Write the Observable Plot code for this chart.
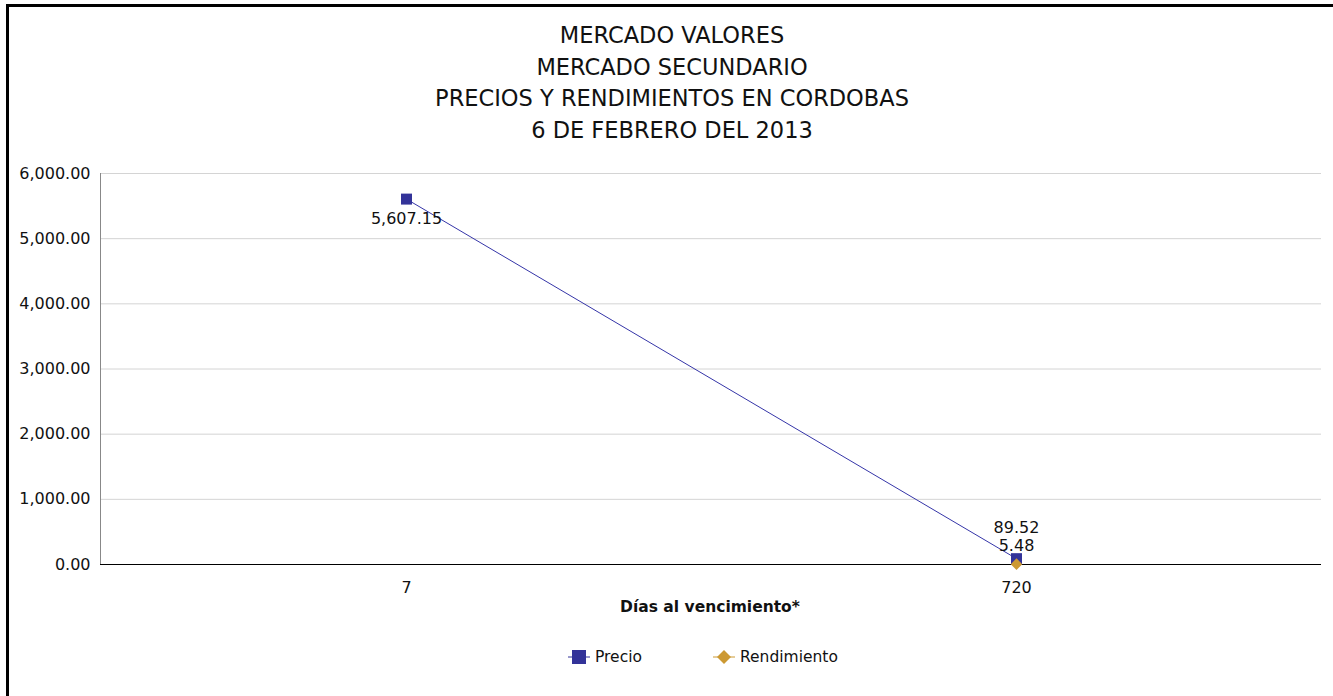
<!DOCTYPE html>
<html>
<head>
<meta charset="utf-8">
<script src="https://cdn.jsdelivr.net/npm/d3@7"></script>
<script src="https://cdn.jsdelivr.net/npm/@observablehq/plot@0.6"></script>
<style>
  html, body { margin: 0; padding: 0; background: #fff; width: 1333px; height: 696px; overflow: hidden; }
  body { font-family: "DejaVu Sans", sans-serif; position: relative; }
  #frame { position: absolute; left: 6px; top: 4px; width: 1340px; height: 700px; border: 3px solid #000; box-sizing: border-box; }
  #title { position: absolute; left: 0; top: 20px; width: 1344px; text-align: center; font-size: 22.5px; line-height: 31.5px; color: #111; }
  #chart { position: absolute; left: 0; top: 160px; }
  #legend { position: absolute; top: 647px; left: 0; width: 1333px; height: 22px; }
  .item { position: absolute; display: flex; align-items: center; font-size: 15.5px; color: #111; }
</style>
</head>
<body>
<div id="frame"></div>
<div id="title"></div>
<div id="chart"></div>
<div id="legend"></div>
<script>
const titleLines = ["MERCADO VALORES", "MERCADO SECUNDARIO", "PRECIOS Y RENDIMIENTOS EN CORDOBAS", "6 DE FEBRERO DEL 2013"];
const dias = ["7", "720"];
const precio = [5607.15, 89.52];
const rendimiento = [null, 5.48];
const yTicks = [0, 1000, 2000, 3000, 4000, 5000, 6000];
const xLabel = "Días al vencimiento*";
const seriesNames = ["Precio", "Rendimiento"];
const colors = ["#333399", "#CC9933"];

document.getElementById("title").innerHTML = titleLines.join("<br>");

const fmt = d3.format(",.2f");
const pData = dias.map((d, i) => ({dia: d, v: precio[i]}));
const rData = dias.map((d, i) => ({dia: d, v: rendimiento[i]})).filter(d => d.v != null);
const pHigh = pData.filter(d => d.v > 1000);
const pLow = pData.filter(d => d.v <= 1000);

const font = "\"DejaVu Sans\", sans-serif";
const fs = 16;

const chart = Plot.plot({
  width: 1333,
  height: 464,
  marginLeft: 100,
  marginRight: 12,
  marginTop: 13,
  marginBottom: 60,
  style: {fontFamily: font, fontSize: fs + "px", color: "#111", background: "transparent"},
  x: {type: "point", domain: dias, padding: 0.5, label: null},
  y: {domain: [0, 6000], ticks: yTicks, tickFormat: fmt, label: null},
  marks: [
    Plot.gridY(yTicks.filter(t => t > 0), {stroke: "#d4d4d4", strokeOpacity: 1, strokeWidth: 1}),
    Plot.axisY({ticks: yTicks, tickFormat: fmt, tickSize: 0, tickPadding: 10, fontSize: fs}),
    Plot.axisX({tickSize: 0, tickPadding: 17, fontSize: fs}),
    Plot.ruleY([0], {stroke: "#000", strokeWidth: 1.2}),
    Plot.line(pData, {x: "dia", y: "v", stroke: "#3535a8", strokeWidth: 1}),
    Plot.dot(pData, {x: "dia", y: "v", symbol: "square", r: 6.2, fill: colors[0], stroke: "none"}),
    Plot.dot(rData, {x: "dia", y: "v", symbol: "diamond2", r: 5.2, fill: colors[1], stroke: "none"}),
    Plot.text(pHigh, {x: "dia", y: "v", text: d => fmt(d.v), dy: 20, fontSize: fs, fill: "#111"}),
    Plot.text(pLow, {x: "dia", y: "v", text: d => fmt(d.v), dy: -31, fontSize: fs, fill: "#111"}),
    Plot.text(rData, {x: "dia", y: "v", text: d => fmt(d.v), dy: -18, fontSize: fs, fill: "#111"})
  ]
});
const svg = d3.select(chart);
// vertical y-axis line
svg.append("line").attr("x1", 100.5).attr("x2", 100.5).attr("y1", 13).attr("y2", 404)
  .attr("stroke", "#888").attr("stroke-width", 1);
// x-axis title
svg.append("text").attr("x", 710).attr("y", 447).attr("dy", "0.35em")
  .attr("text-anchor", "middle").attr("font-weight", "bold").attr("font-size", 15.5)
  .attr("fill", "#111").text(xLabel);
document.getElementById("chart").appendChild(chart);

// legend
const legend = document.getElementById("legend");
const items = [
  {name: seriesNames[0], color: colors[0], left: 567, shape: "square"},
  {name: seriesNames[1], color: colors[1], left: 712, shape: "diamond"}
];
items.forEach(it => {
  const div = document.createElement("div");
  div.className = "item";
  div.style.left = it.left + "px";
  div.style.top = "0px";
  const s = d3.create("svg").attr("width", 24).attr("height", 20);
  s.append("line").attr("x1", 1).attr("x2", 23).attr("y1", 10).attr("y2", 10)
    .attr("stroke", it.color).attr("stroke-width", 1);
  if (it.shape === "square") {
    s.append("rect").attr("x", 5).attr("y", 3).attr("width", 14).attr("height", 14).attr("fill", it.color);
  } else {
    s.append("path").attr("d", "M12,3 L19,10 L12,17 L5,10 Z").attr("fill", it.color);
  }
  div.appendChild(s.node());
  const t = document.createElement("span");
  t.textContent = it.name;
  t.style.marginLeft = "4px";
  div.appendChild(t);
  legend.appendChild(div);
});
</script>
</body>
</html>
